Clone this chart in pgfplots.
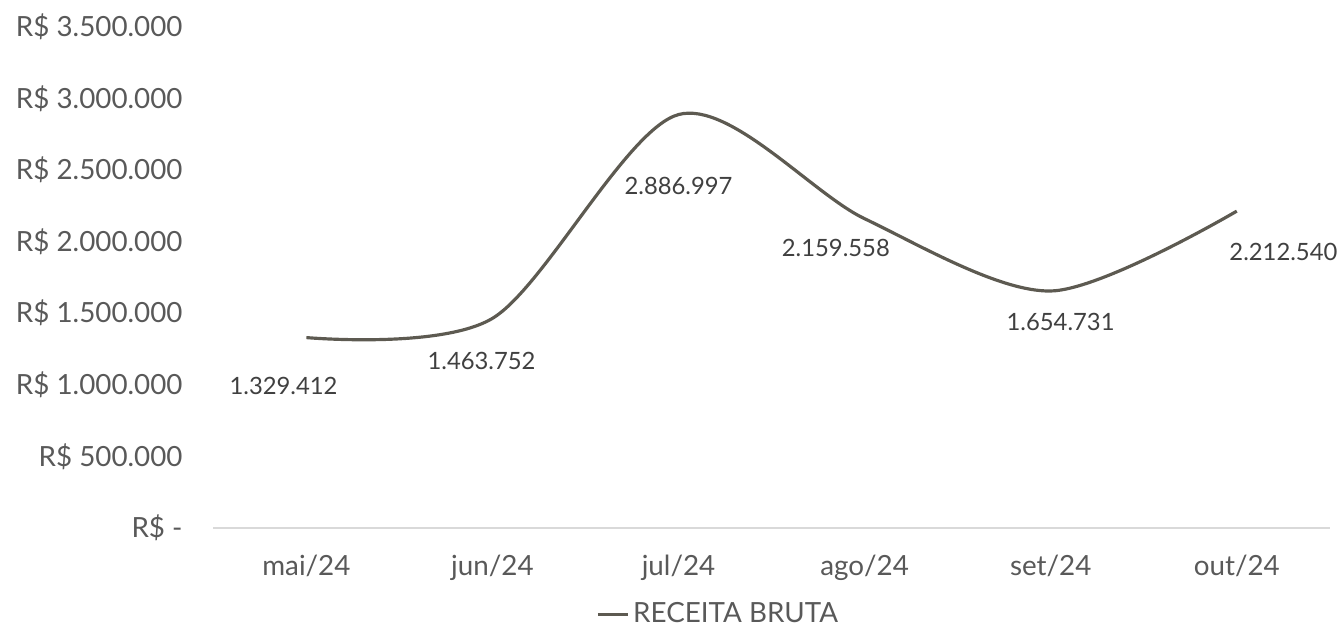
\documentclass[border=0pt]{standalone}
\usepackage{pgfplots}
\pgfplotsset{compat=1.18}
\usepackage{fontspec}
\setmainfont{Lato}
\definecolor{linec}{HTML}{5D5A51}
\definecolor{tickc}{HTML}{595959}
\definecolor{labc}{HTML}{404040}
\definecolor{gridc}{HTML}{D9D9D9}
\begin{document}
\begin{tikzpicture}
\begin{axis}[
  name=ax,
  scale only axis,
  width=562.5pt, height=252.5pt,
  xmin=-0.5, xmax=5.5,
  ymin=0, ymax=3500000,
  scaled y ticks=false,
  axis x line*=bottom, axis y line*=left,
  x axis line style={draw=gridc, line width=0.6pt, -},
  y axis line style={draw=none},
  major tick length=0pt,
  xtick={0,1,2,3,4,5},
  xticklabels={mai/24,jun/24,jul/24,ago/24,set/24,out/24},
  ytick={0,500000,1000000,1500000,2000000,2500000,3000000,3500000},
  yticklabels={R\$ -,R\$ 500.000,R\$ 1.000.000,R\$ 1.500.000,R\$ 2.000.000,R\$ 2.500.000,R\$ 3.000.000,R\$ 3.500.000},
  ticklabel style={font=\fontsize{14}{16}\selectfont, text=tickc},
  yticklabel style={xshift=-12pt},
  xticklabel style={yshift=-10pt},
  /pgf/number format/assume math mode=true,
  legend style={draw=none, fill=none, at={(0.453,-0.172)}, anchor=center,
    font=\fontsize{14}{16}\selectfont, text=tickc, inner sep=0pt},
  legend image code/.code={\draw[#1] (2pt,0pt) -- (17pt,0pt);},
  legend cell align=left,
  /tikz/every even column/.append style={column sep=0pt},
  clip=false,
]
\addplot[color=linec, line width=1.6pt, smooth, mark=none]
  coordinates {(0,1329412) (1,1463752) (2,2886997) (3,2159558) (4,1654731) (5,2212540)};
\addlegendentry{RECEITA BRUTA}
% data labels
\addplot[forget plot, draw=none, mark=none, nodes near coords, point meta=explicit symbolic,
  nodes near coords style={anchor=center, xshift=-11.5pt, yshift=-24.5pt, text=labc, font=\fontsize{12}{14}\selectfont}]
  coordinates {(0,1329412)[1.329.412]};
\addplot[forget plot, draw=none, mark=none, nodes near coords, point meta=explicit symbolic,
  nodes near coords style={anchor=center, xshift=-5.5pt, yshift=-21.5pt, text=labc, font=\fontsize{12}{14}\selectfont}]
  coordinates {(1,1463752)[1.463.752]};
\addplot[forget plot, draw=none, mark=none, nodes near coords, point meta=explicit symbolic,
  nodes near coords style={anchor=center, xshift=0pt, yshift=-36pt, text=labc, font=\fontsize{12}{14}\selectfont}]
  coordinates {(2,2886997)[2.886.997]};
\addplot[forget plot, draw=none, mark=none, nodes near coords, point meta=explicit symbolic,
  nodes near coords style={anchor=center, xshift=-14.5pt, yshift=-14.5pt, text=labc, font=\fontsize{12}{14}\selectfont}]
  coordinates {(3,2159558)[2.159.558]};
\addplot[forget plot, draw=none, mark=none, nodes near coords, point meta=explicit symbolic,
  nodes near coords style={anchor=center, xshift=5pt, yshift=-15.5pt, text=labc, font=\fontsize{12}{14}\selectfont}]
  coordinates {(4,1654731)[1.654.731]};
\addplot[forget plot, draw=none, mark=none, nodes near coords, point meta=explicit symbolic,
  nodes near coords style={anchor=center, xshift=23.5pt, yshift=-20.5pt, text=labc, font=\fontsize{12}{14}\selectfont}]
  coordinates {(5,2212540)[2.212.540]};
\end{axis}
\path[use as bounding box] ([xshift=-107.5pt,yshift=-45pt]ax.south west) rectangle ([xshift=564.5pt,yshift=266pt]ax.south west);
\end{tikzpicture}
\end{document}
